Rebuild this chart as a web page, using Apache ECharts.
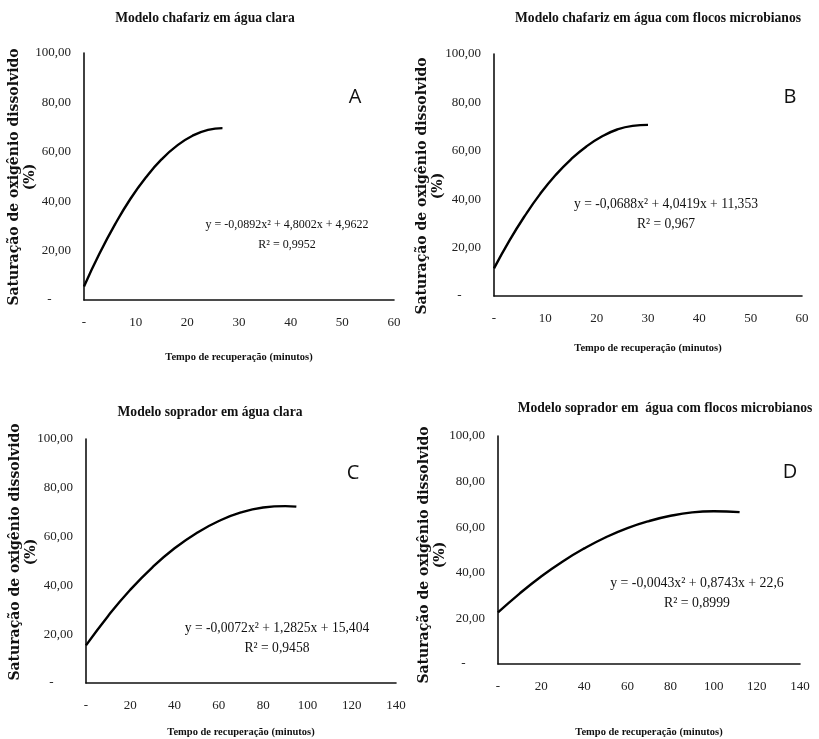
<!DOCTYPE html>
<html>
<head>
<meta charset="utf-8">
<script src="https://cdn.jsdelivr.net/npm/echarts@6/dist/echarts.min.js"></script>
<style>
html, body { margin: 0; padding: 0; background: #fff; }
#main { width: 819px; height: 739px; }
</style>
</head>
<body>
<div id="main"></div>
<script>
// valores (tempo em minutos, saturação em %)
var tempoA = [0, 3, 6, 9, 12, 15, 18, 21, 24, 26.8];
var satA = [5.5, 18.8, 30.6, 41.0, 49.7, 56.9, 62.5, 66.5, 68.9, 69.6];

var tempoB = [0, 3, 6, 9, 12, 15, 18, 21, 24, 27, 30];
var satB = [11.4, 22.9, 33.1, 42.2, 50.0, 56.5, 61.8, 65.9, 68.8, 70.3, 70.7];

var tempoC = [0, 10, 20, 30, 40, 50, 60, 70, 80, 90, 95];
var satC = [15.4, 27.5, 38.2, 47.4, 55.2, 61.5, 66.4, 69.9, 71.9, 72.5, 72.3];

var tempoD = [0, 10, 20, 30, 40, 50, 60, 70, 80, 90, 100, 112];
var satD = [22.6, 30.9, 38.4, 45.0, 50.7, 55.6, 59.6, 62.7, 65.0, 66.5, 67.0, 66.6];

var titulos = ['Modelo chafariz em água clara', 'Modelo chafariz em água com flocos microbianos',
	'Modelo soprador em água clara', 'Modelo soprador em  água com flocos microbianos'];
var equacoes = ['y = -0,0892x² + 4,8002x + 4,9622\nR² = 0,9952', 'y = -0,0688x² + 4,0419x + 11,353\nR² = 0,967',
	'y = -0,0072x² + 1,2825x + 15,404\nR² = 0,9458', 'y = -0,0043x² + 0,8743x + 22,6\nR² = 0,8999'];
var letras = ['A', 'B', 'C', 'D'];
var xMax = [60, 60, 140, 140];
var xInterval = [10, 10, 20, 20];

var myChart = echarts.init(document.getElementById('main'));
var serif = 'Liberation Serif';

function zip(xs, ys) {
	var out = [];
	for (var i = 0; i < xs.length; i++) out.push([xs[i], ys[i]]);
	return out;
}

var grids = [
	{left: 84, top: 53, width: 310, height: 247},
	{left: 494, top: 54, width: 308, height: 242},
	{left: 86, top: 439, width: 310, height: 248},
	{left: 498, top: 436, width: 302, height: 233}
];
var nameGaps = [52, 47, 44, 63];

var xAxes = [], yAxes = [];
for (var i = 0; i < 4; i++) {
	xAxes.push({
		type: 'value', gridIndex: i, min: 0, max: xMax[i], interval: xInterval[i],
		name: 'Tempo de recuperação (minutos)', nameLocation: 'middle', nameGap: nameGaps[i],
		nameTextStyle: {fontFamily: serif, fontWeight: 'bold', fontSize: 10.5, color: '#111'},
		axisLine: {lineStyle: {color: '#111', width: 1.6}},
		axisTick: {show: false},
		splitLine: {show: false},
		axisLabel: {
			margin: 16, fontFamily: serif, fontSize: 13, color: '#222',
			formatter: function(v) { return v === 0 ? '-' : String(v); }
		}
	});
	yAxes.push({
		type: 'value', gridIndex: i, min: 0, max: 100, interval: 20,
		axisLine: {show: true, lineStyle: {color: '#111', width: 1.6}},
		axisTick: {show: false},
		splitLine: {show: false},
		axisLabel: {
			margin: 13, fontFamily: serif, fontSize: 13, color: '#222',
			formatter: function(v) { return v === 0 ? '-      ' : v.toFixed(2).replace('.', ','); }
		}
	});
}

var dados = [zip(tempoA, satA), zip(tempoB, satB), zip(tempoC, satC), zip(tempoD, satD)];
var series = dados.map(function(d, i) {
	return {
		type: 'line', xAxisIndex: i, yAxisIndex: i, data: d,
		smooth: true, showSymbol: false,
		lineStyle: {color: '#000', width: 2.4}
	};
});

// textos soltos: títulos, nome do eixo y, letras, equações
var tituloPos = [[205, 18], [658, 18], [210, 412], [665, 408]];
var yNomePos = [[22, 177], [430, 186], [23, 552], [432, 555]];
var letraPos = [[355, 97], [790, 97], [353, 473], [790, 472]];
var eqPos = [[287, 235], [666, 214], [277, 638], [697, 593]];
var eqSize = [12, 13.6, 13.6, 13.8];

var graphic = [];
for (var j = 0; j < 4; j++) {
	graphic.push({
		type: 'text', x: tituloPos[j][0], y: tituloPos[j][1],
		style: {text: titulos[j], fontFamily: serif, fontWeight: 'bold', fontSize: 13.6,
			fill: '#111', textAlign: 'center', textVerticalAlign: 'middle'}
	});
	graphic.push({
		type: 'text', x: yNomePos[j][0], y: yNomePos[j][1], rotation: Math.PI / 2,
		style: {text: 'Saturação de oxigênio dissolvido\n(%)', fontFamily: 'DejaVu Serif', fontWeight: 'bold',
			fontSize: 14, lineHeight: 16, fill: '#111', textAlign: 'center', textVerticalAlign: 'middle'}
	});
	graphic.push({
		type: 'text', x: letraPos[j][0], y: letraPos[j][1],
		style: {text: letras[j], fontFamily: 'Open Sans', fontSize: 20, fill: '#111',
			textAlign: 'center', textVerticalAlign: 'middle'}
	});
	graphic.push({
		type: 'text', x: eqPos[j][0], y: eqPos[j][1],
		style: {text: equacoes[j], fontFamily: serif, fontSize: eqSize[j], lineHeight: 20, fill: '#111',
			textAlign: 'center', textVerticalAlign: 'middle'}
	});
}

myChart.setOption({
	backgroundColor: '#fff',
	animation: false,
	grid: grids,
	xAxis: xAxes,
	yAxis: yAxes,
	series: series,
	graphic: graphic
});
</script>
</body>
</html>
